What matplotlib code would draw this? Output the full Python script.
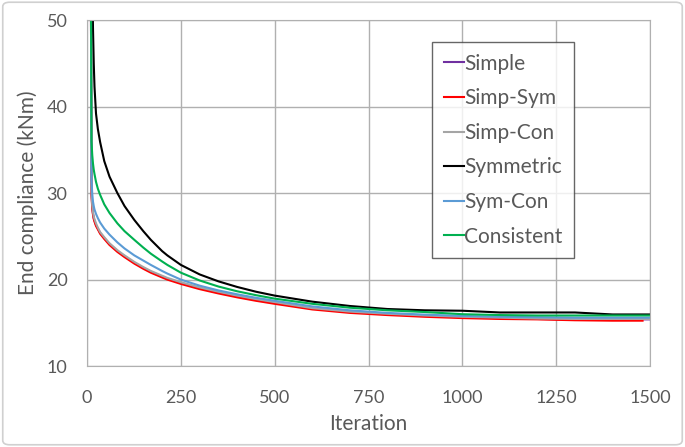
import matplotlib.pyplot as plt
from matplotlib.patches import FancyBboxPatch

plt.rcParams['font.family'] = ['Lato', 'DejaVu Sans']

iters = [10, 12, 14, 16, 18, 20, 24, 29, 35, 46, 60, 81, 100, 126, 150, 170,
         200, 214, 250, 300, 350, 400, 450, 500, 600, 700, 800, 900, 1000,
         1100, 1200, 1300, 1400, 1500]

simple = [60, 30, 28.4, 27.6, 27.1, 26.8, 26.3, 25.9, 25.4, 24.8, 24.1, 23.3,
          22.7, 21.95, 21.35, 20.9, 20.35, 20.1, 19.6, 19.0, 18.5, 18.05,
          17.65, 17.3, 16.65, 16.25, 16.0, 15.8, 15.65, 15.55, 15.45, 15.4,
          15.4, 15.4]
simp_sym = [60, 29.8, 28.2, 27.5, 27.0, 26.7, 26.2, 25.8, 25.3, 24.7, 24.0,
            23.2, 22.6, 21.85, 21.25, 20.8, 20.25, 20.0, 19.5, 18.9, 18.4,
            17.95, 17.55, 17.2, 16.55, 16.15, 15.9, 15.7, 15.55, 15.45, 15.4,
            15.3, 15.25, 15.25]
simp_con = [60, 30.2, 28.6, 27.8, 27.3, 27.0, 26.5, 26.0, 25.5, 24.9, 24.2,
            23.4, 22.8, 22.05, 21.45, 21.0, 20.45, 20.2, 19.7, 19.1, 18.6,
            18.15, 17.75, 17.4, 16.7, 16.3, 16.05, 15.85, 15.7, 15.6, 15.5,
            15.45, 15.45, 15.45]
symmetric = [80, 62, 55, 49, 45, 42.3, 39.2, 37.4, 35.9, 33.7, 31.9, 30.0,
             28.5, 26.9, 25.6, 24.6, 23.3, 22.8, 21.7, 20.6, 19.8, 19.15, 18.6,
             18.15, 17.45, 16.95, 16.6, 16.45, 16.4, 16.2, 16.2, 16.2, 15.97,
             15.97]
sym_con = [60, 31.5, 29.9, 29.0, 28.5, 28.1, 27.6, 27.1, 26.6, 25.9, 25.2,
           24.3, 23.6, 22.8, 22.2, 21.7, 21.0, 20.7, 20.0, 19.3, 18.75, 18.3,
           17.9, 17.55, 16.9, 16.45, 16.15, 15.95, 15.8, 15.7, 15.65, 15.6,
           15.6, 15.6]
consistent = [60, 36, 34.4, 33.4, 32.7, 32.2, 31.3, 30.5, 29.8, 28.7, 27.7,
              26.5, 25.6, 24.6, 23.7, 23.0, 22.1, 21.7, 20.8, 19.9, 19.2,
              18.65, 18.2, 17.8, 17.2, 16.75, 16.45, 16.25, 16.0, 15.9, 15.85,
              15.85, 15.85, 15.85]

red_end = 1480

series = [
    ('Simple', simple, '#7030A0'),
    ('Simp-Sym', simp_sym, '#FF0000'),
    ('Simp-Con', simp_con, '#A5A5A5'),
    ('Symmetric', symmetric, '#000000'),
    ('Sym-Con', sym_con, '#5B9BD5'),
    ('Consistent', consistent, '#00B050'),
]

fig = plt.figure(figsize=(6.85, 4.47), dpi=100)
ax = fig.add_axes([0.127, 0.181, 0.822, 0.774])

for name, vals, col in series:
    x = list(iters)
    if name == 'Simp-Sym':
        x[-1] = red_end
    ax.plot(x, vals, color=col, lw=1.5, label=name)

ax.set_xlim(0, 1500)
ax.set_ylim(10, 50)
ax.set_xticks([0, 250, 500, 750, 1000, 1250, 1500])
ax.set_yticks([10, 20, 30, 40, 50])
ax.grid(True, color='#B0B0B0', lw=1)
ax.set_axisbelow(True)
for s in ax.spines.values():
    s.set_color('#B0B0B0')
ax.tick_params(length=0, labelsize=13, labelcolor='#595959')
ax.tick_params(axis='x', pad=17)
ax.tick_params(axis='y', pad=14)
ax.set_xlabel('Iteration', fontsize=15, color='#595959', labelpad=6)
ax.set_ylabel('End compliance (kNm)', fontsize=15, color='#595959', labelpad=6)

leg = ax.legend(loc='upper left', bbox_to_anchor=(0.613, 0.936), fontsize=15,
                handlelength=1.0, handletextpad=0.0, labelspacing=0.7,
                borderpad=0.55, frameon=True, fancybox=False, borderaxespad=0)
leg.get_frame().set_edgecolor('#404040')
leg.get_frame().set_linewidth(1.0)
for t in leg.get_texts():
    t.set_color('#595959')

border = FancyBboxPatch((0.004, 0.005), 0.992, 0.99, boxstyle='round,pad=0,rounding_size=0.01',
                        transform=fig.transFigure, fill=False, edgecolor='#D0D0D0', lw=1.2)
fig.patches.append(border)

fig.savefig('out.png', dpi=100)
